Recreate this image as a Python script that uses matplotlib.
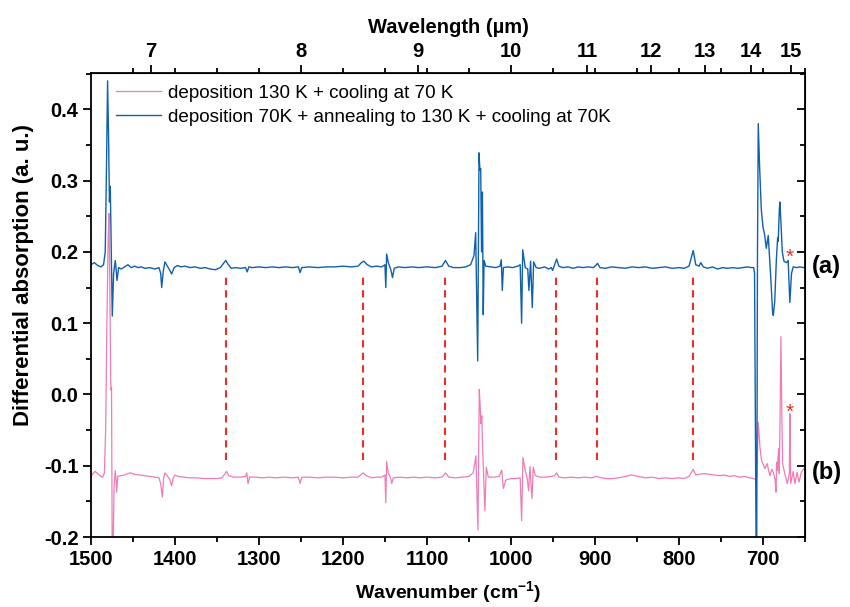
import matplotlib
matplotlib.use('Agg')
import matplotlib.pyplot as plt
from matplotlib.ticker import MultipleLocator, FixedLocator, NullFormatter

plt.rcParams['font.family'] = ['Liberation Sans', 'DejaVu Sans']
plt.rcParams['mathtext.fontset'] = 'custom'
plt.rcParams['mathtext.bf'] = 'Liberation Sans:bold'
plt.rcParams['mathtext.rm'] = 'Liberation Sans'

# ---- data ----
blue_wn = [1500, 1496, 1492, 1488, 1485, 1483, 1481.5, 1480.2, 1479, 1478, 1477, 1476, 1474.6, 1473, 1471, 1470, 1469, 1467,
           1464, 1460, 1456, 1452, 1448, 1444, 1440, 1436, 1430, 1424, 1419, 1417, 1415.8, 1414, 1412, 1409, 1406, 1404,
           1401, 1397, 1393, 1388, 1382, 1376, 1370, 1364, 1358, 1352, 1346, 1342, 1339.5, 1337, 1333, 1328, 1322, 1316,
           1314, 1312, 1308, 1300, 1292, 1284, 1276, 1268, 1260, 1253, 1251, 1249, 1240, 1230, 1220, 1210, 1200, 1190,
           1182, 1178, 1175, 1171, 1166, 1160, 1154, 1150, 1149, 1148, 1146, 1143, 1141, 1139, 1134, 1126, 1118, 1110,
           1100, 1090, 1082, 1078, 1074, 1068, 1060, 1054, 1048, 1044, 1042, 1039.6, 1038, 1037, 1036, 1035, 1034, 1033,
           1032, 1030, 1024, 1018, 1013, 1011.5, 1010.3, 1009, 1004, 998, 992, 989, 987.3, 986, 983, 980, 978.6, 976.6,
           974.6, 973, 970, 966, 960, 955, 952, 950.4, 948, 945.6, 943, 938, 932, 926, 920, 914, 908, 902, 899, 897, 894,
           888, 880, 872, 864, 856, 848, 840, 832, 824, 816, 808, 800, 794, 788, 783, 780, 776, 774, 771, 766, 760, 754,
           748, 742, 736, 730, 724, 718, 714, 711, 710, 708, 707.5, 706.5, 705.6, 704, 702, 700, 698, 696, 693.7, 691,
           688.5, 687.7, 686, 684, 682.5, 681.8, 680.5, 679.8, 678.5, 677, 675, 672, 670, 668, 666, 664, 660, 656, 652, 650]
blue_abs = [0.182, 0.185, 0.181, 0.179, 0.182, 0.20, 0.32, 0.44, 0.36, 0.27, 0.292, 0.22, 0.11, 0.17, 0.188, 0.175, 0.16, 0.178,
            0.176, 0.179, 0.182, 0.178, 0.180, 0.178, 0.179, 0.177, 0.178, 0.176, 0.178, 0.170, 0.150, 0.172, 0.186, 0.180, 0.174, 0.169,
            0.178, 0.181, 0.179, 0.180, 0.178, 0.179, 0.177, 0.178, 0.176, 0.175, 0.178, 0.184, 0.188, 0.183, 0.177, 0.178, 0.177, 0.178,
            0.172, 0.179, 0.178, 0.179, 0.178, 0.179, 0.178, 0.179, 0.178, 0.179, 0.171, 0.178, 0.179, 0.178, 0.179, 0.179, 0.180, 0.179,
            0.180, 0.185, 0.187, 0.182, 0.179, 0.180, 0.179, 0.182, 0.150, 0.197, 0.185, 0.175, 0.164, 0.177, 0.179, 0.178, 0.179, 0.178,
            0.179, 0.178, 0.180, 0.188, 0.180, 0.178, 0.178, 0.179, 0.182, 0.195, 0.227, 0.047, 0.339, 0.315, 0.317, 0.200, 0.284, 0.112,
            0.188, 0.180, 0.179, 0.178, 0.180, 0.189, 0.146, 0.178, 0.179, 0.178, 0.180, 0.182, 0.100, 0.203, 0.178, 0.176, 0.146, 0.187,
            0.122, 0.186, 0.178, 0.177, 0.179, 0.176, 0.178, 0.174, 0.182, 0.190, 0.180, 0.178, 0.179, 0.177, 0.179, 0.178, 0.179, 0.178, 0.181, 0.184, 0.178,
            0.177, 0.179, 0.178, 0.177, 0.179, 0.178, 0.179, 0.177, 0.178, 0.179, 0.177, 0.178, 0.177, 0.180, 0.202, 0.182, 0.180, 0.185, 0.179, 0.177, 0.179, 0.176,
            0.178, 0.177, 0.178, 0.177, 0.178, 0.179, 0.178, 0.178, 0.170, -0.25, -0.25, 0.20, 0.38, 0.32, 0.26, 0.235, 0.224, 0.205, 0.223, 0.17,
            0.115, 0.111, 0.13, 0.19, 0.22, 0.215, 0.26, 0.27, 0.24, 0.20, 0.187, 0.185, 0.188, 0.129, 0.170, 0.179, 0.178, 0.179, 0.178, 0.179]

pink_wn = [1500, 1497, 1495, 1492, 1488, 1486, 1484, 1482.5, 1481, 1479.5, 1478.6, 1477.5, 1476.5, 1476, 1475.5, 1474.6, 1474, 1472.5,
           1471, 1470, 1469.5, 1468, 1465, 1460, 1456, 1453, 1448, 1442, 1436, 1430, 1424, 1419, 1417, 1415, 1413.5, 1412,
           1409, 1406, 1404, 1402, 1400, 1396, 1390, 1382, 1374, 1366, 1358, 1350, 1344, 1341, 1338.5, 1336, 1330, 1322,
           1316, 1314.5, 1313, 1311, 1304, 1296, 1288, 1280, 1270, 1260, 1253, 1251, 1249, 1240, 1230, 1220, 1210, 1200,
           1190, 1182, 1178, 1176, 1172, 1166, 1160, 1154, 1150, 1149, 1148, 1146, 1143, 1142, 1140, 1132, 1124, 1116,
           1108, 1100, 1090, 1082, 1078, 1074, 1066, 1058, 1050, 1045, 1041.7, 1039.3, 1037.7, 1036.5, 1035.7, 1034.7,
           1033.7, 1031, 1029.4, 1027, 1020, 1014, 1011, 1009, 1006, 1000, 994, 989, 987.3, 985.7, 983, 981, 979, 977.4,
           975, 973.4, 971, 965, 958, 952, 948, 945.6, 943, 936, 928, 920, 912, 904, 898, 892, 886, 880, 872, 864, 856,
           848, 840, 832, 824, 816, 808, 800, 794, 788, 783, 780, 776, 770, 764, 758, 752, 746, 740, 734, 728, 722, 716,
           712, 709, 708, 707, 705.6, 703.5, 701.6, 699, 697.6, 695, 693, 691.7, 689.5, 687.7, 685.5, 684.5, 683.7, 683,
           681.4, 680.6, 679.5, 678.6, 677.5, 676.6, 674, 671, 668.6, 667.9, 667, 664, 662, 659.4, 657, 654.2, 651.5, 650]
pink_abs = [-0.115, -0.110, -0.108, -0.111, -0.115, -0.116, -0.110, -0.05, 0.10, 0.22, 0.254, 0.15, 0.02, 0.006, 0.01, -0.25, -0.25, -0.13,
            -0.107, -0.120, -0.137, -0.115, -0.114, -0.113, -0.111, -0.110, -0.112, -0.113, -0.114, -0.115, -0.116, -0.117, -0.125, -0.144, -0.118, -0.110,
            -0.114, -0.120, -0.128, -0.117, -0.113, -0.115, -0.116, -0.117, -0.117, -0.118, -0.118, -0.118, -0.117, -0.112, -0.108, -0.114, -0.116, -0.116,
            -0.115, -0.110, -0.125, -0.116, -0.116, -0.117, -0.116, -0.117, -0.116, -0.117, -0.116, -0.125, -0.116, -0.116, -0.117, -0.116, -0.116, -0.117,
            -0.116, -0.116, -0.112, -0.110, -0.114, -0.117, -0.116, -0.116, -0.113, -0.152, -0.094, -0.110, -0.118, -0.125, -0.117, -0.116, -0.117, -0.116,
            -0.117, -0.116, -0.117, -0.116, -0.110, -0.116, -0.117, -0.116, -0.115, -0.110, -0.086, -0.19, 0.007, -0.02, -0.041, -0.03,
            -0.076, -0.163, -0.102, -0.116, -0.116, -0.115, -0.106, -0.132, -0.120, -0.118, -0.118, -0.117, -0.177, -0.088, -0.107, -0.115, -0.135, -0.101,
            -0.146, -0.102, -0.114, -0.116, -0.116, -0.115, -0.114, -0.110, -0.116, -0.117, -0.116, -0.117, -0.116, -0.117, -0.115, -0.117, -0.118, -0.118, -0.117, -0.115, -0.113,
            -0.115, -0.117, -0.116, -0.118, -0.117, -0.118, -0.117, -0.118, -0.115, -0.105, -0.113, -0.112, -0.111, -0.112, -0.113, -0.114, -0.113, -0.115, -0.114, -0.116, -0.115, -0.117,
            -0.118, -0.119, -0.130, -0.100, -0.039, -0.075, -0.093, -0.100, -0.104, -0.097, -0.108, -0.114, -0.105, -0.109, -0.120, -0.137, -0.095, -0.107,
            -0.076, -0.111, -0.02, 0.081, -0.03, -0.097, -0.111, -0.125, -0.111, -0.027, -0.125, -0.108, -0.125, -0.109, -0.123, -0.109, -0.104, -0.106]

marker_wn = [1339.5, 1176, 1078, 946, 897, 783]
star_wn = [668, 668]
star_y = [0.192, -0.025]

wl_ticks = [7, 8, 9, 10, 11, 12, 13, 14, 15]

pink = '#f07cb4'
blue = '#1060ac'
red = '#e8302a'

fig = plt.figure(figsize=(8.5, 6.07), dpi=100)
ax = fig.add_axes([0.107, 0.1153, 0.840, 0.7644])

ax.plot(pink_wn, pink_abs, color=pink, lw=0.9, label='deposition 130 K + cooling at 70 K')
ax.plot(blue_wn, blue_abs, color=blue, lw=1.0, label='deposition 70K + annealing to 130 K + cooling at 70K')
ax.vlines(marker_wn, -0.092, 0.171, colors=red, linestyles=(0, (3.5, 2.5)), lw=1.5)
for w, s in zip(star_wn, star_y):
    ax.text(w, s, '*', color=red, fontsize=15, ha='center', va='center')

ax.set_xlim(1500, 650)
ax.set_ylim(-0.2, 0.451)
ax.xaxis.set_major_locator(MultipleLocator(100))
ax.xaxis.set_minor_locator(MultipleLocator(50))
ax.yaxis.set_major_locator(MultipleLocator(0.1))
ax.yaxis.set_minor_locator(MultipleLocator(0.05))
ax.yaxis.set_major_formatter(plt.FuncFormatter(lambda v, p: '%.1f' % v))
ax.tick_params(which='major', direction='out', length=6, width=1.3, labelsize=14.5, pad=3)
ax.tick_params(which='minor', direction='out', length=3.5, width=1.3)
for lab in ax.get_xticklabels() + ax.get_yticklabels():
    lab.set_fontweight('bold')
for sp in ax.spines.values():
    sp.set_linewidth(1.3)

ax.set_xlabel('Wavenumber (cm$^{\\mathbf{-1}}$)', fontsize=14, fontweight='bold', labelpad=8)
ax.set_ylabel('Differential absorption (a. u.)', fontsize=16, fontweight='bold')
ax.yaxis.set_label_coords(-0.08, 0.565)

# top axis in wavelength
top = ax.secondary_xaxis('top', functions=(lambda x: 1e4 / x, lambda x: 1e4 / x))
top.xaxis.set_major_locator(FixedLocator(wl_ticks))
top.xaxis.set_minor_locator(FixedLocator([1e4 / w for w in range(1450, 649, -50)]))
top.xaxis.set_minor_formatter(NullFormatter())
top.tick_params(which='major', direction='out', length=6, width=1.3, labelsize=14.5, pad=3)
top.tick_params(which='minor', direction='out', length=3.5, width=1.3)
for lab in top.get_xticklabels():
    lab.set_fontweight('bold')
top.set_xlabel('Wavelength (\u00b5m)', fontsize=14.5, fontweight='bold', labelpad=6)

# right axis ticks pointing inward
right = ax.secondary_yaxis('right')
right.yaxis.set_major_locator(MultipleLocator(0.1))
right.yaxis.set_minor_locator(MultipleLocator(0.05))
right.yaxis.set_major_formatter(NullFormatter())
right.tick_params(which='major', direction='in', length=6, width=1.3)
right.tick_params(which='minor', direction='in', length=3.5, width=1.3)

ax.text(1.01, 0.18, '(a)', transform=ax.get_yaxis_transform(), fontsize=17, fontweight='bold', va='center')
ax.text(1.01, -0.11, '(b)', transform=ax.get_yaxis_transform(), fontsize=17, fontweight='bold', va='center')

ax.legend(loc='upper left', frameon=False, fontsize=13.6, handlelength=2.4, handletextpad=0.35,
          borderaxespad=0, borderpad=0, labelspacing=0.35, bbox_to_anchor=(0.035, 0.975))

fig.savefig('out.png', dpi=100)
